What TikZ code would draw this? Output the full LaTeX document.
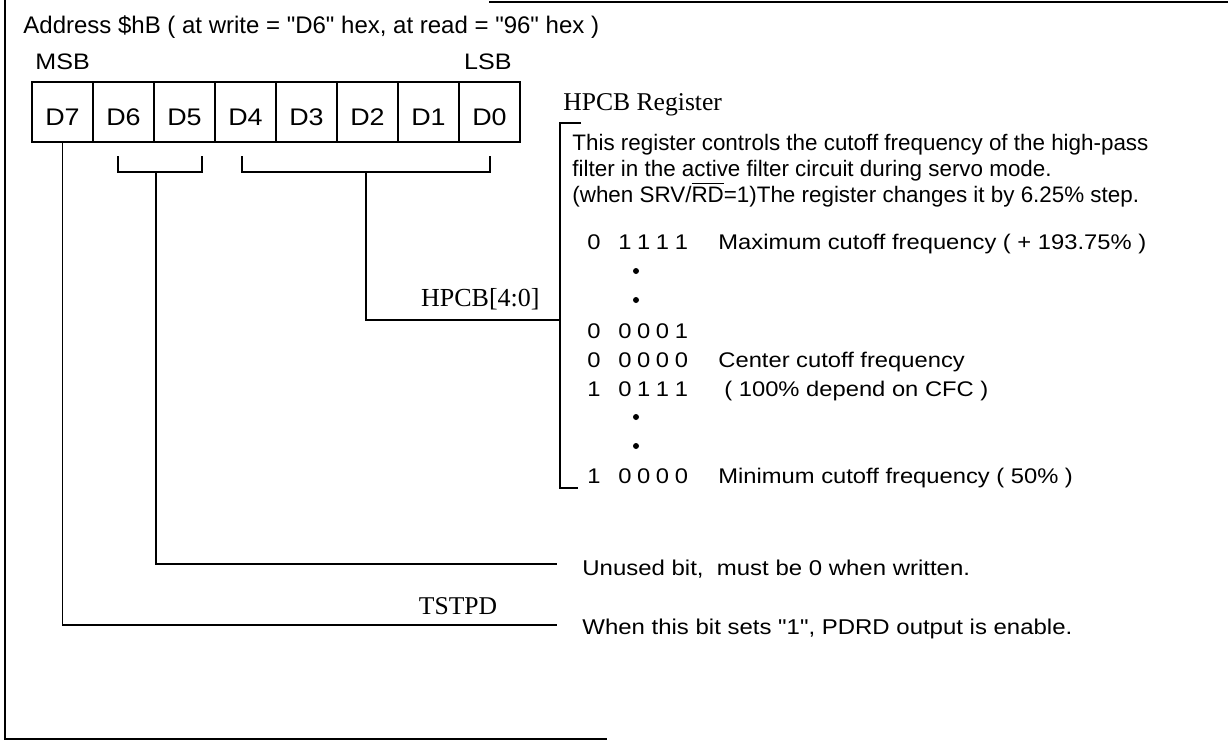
\documentclass[tikz,border=0pt]{standalone}
\usepackage{fontspec}
\setmainfont{Liberation Serif}
\newfontfamily\regsans{Liberation Sans}
\newfontfamily\widesans[FakeStretch=1.12]{Liberation Sans}
\usetikzlibrary{positioning}

\tikzset{
  bitcell/.style={draw, line width=1pt, outer sep=0pt, inner sep=0pt,
    minimum width=30.5pt, minimum height=30pt, text height=13pt, text depth=0pt,
    font=\widesans\fontsize{12}{14}\selectfont},
  link/.style={line width=0.8pt},
  frameline/.style={line width=1pt},
  sanstxt/.style={anchor=base west, inner sep=0pt, font=\regsans\fontsize{11.2}{13}\selectfont},
  notetxt/.style={anchor=base west, inner sep=0pt, font=\widesans\fontsize{10.7}{13}\selectfont},
  rowtxt/.style={anchor=base west, inner sep=0pt, font=\widesans\fontsize{10.6}{12}\selectfont},
  serif/.style={inner sep=0pt, font=\rmfamily\fontsize{12.8}{15}\selectfont},
  dotmark/.style={circle, fill, inner sep=0pt, minimum size=3pt}
}
\newcommand{\bitsp}{\hspace{2.8pt}}

\begin{document}
\begin{tikzpicture}[x=0.5pt,y=-0.5pt]
\useasboundingbox (0,0) rectangle (1228,744);

% frame
\draw[frameline] (489,2) -- (1228,2);
\draw[frameline] (5,0) -- (5,739) -- (607,739);

\node[sanstxt, font=\regsans\fontsize{12}{14}\selectfont] (title) at (23,33)
  {Address \$hB ( at write = "D6" hex, at read = "96" hex )};
\node[rowtxt, font=\widesans\fontsize{11.2}{13}\selectfont] (msb) at (35,69) {MSB};
\node[rowtxt, font=\widesans\fontsize{11.2}{13}\selectfont, anchor=base east] (lsb) at (512,69) {LSB};

% register
\node[bitcell] (d7) at (62.5,112) {D7};
\node[bitcell, right=0pt of d7] (d6) {D6};
\node[bitcell, right=0pt of d6] (d5) {D5};
\node[bitcell, right=0pt of d5] (d4) {D4};
\node[bitcell, right=0pt of d4] (d3) {D3};
\node[bitcell, right=0pt of d3] (d2) {D2};
\node[bitcell, right=0pt of d2] (d1) {D1};
\node[bitcell, right=0pt of d1] (d0) {D0};
\draw[line width=1.4pt] (d7.north west) rectangle (d0.south east);

% brackets under the bits
\coordinate (b65l) at (118,156);
\coordinate (b65r) at (202,156);
\coordinate (b65c) at (156,172);
\coordinate (b40l) at (242,156);
\coordinate (b40r) at (490,156);
\coordinate (b40c) at (366,172);
\draw[link] (b65l) |- (b65c) -| (b65r);
\draw[link] (b40l) |- (b40c) -| (b40r);

% HPCB register text
\node[serif, anchor=base west] (regname) at (563,111) {HPCB Register};
\coordinate (regtop) at (581,123);
\coordinate (regbot) at (578,488);
\draw[link] (regtop) -- (560,123) -- (560,488) -- (regbot);
\node[sanstxt] (par1) at (572,150) {This register controls the cutoff frequency of the high-pass};
\node[sanstxt] (par2) at (572,176) {filter in the active filter circuit during servo mode.};
\node[sanstxt] (par3) at (572,202) {(when SRV/$\overline{\hbox{RD}}$=1)The register changes it by 6.25\% step.};

\node[rowtxt] (s1) at (587,249) {0};
\node[rowtxt] (v1) at (618,249) {1\bitsp1\bitsp1\bitsp1};
\node[rowtxt] (t1) at (718,249) {Maximum cutoff frequency ( + 193.75\% )};
\node[dotmark] (p1) at (636,271) {};
\node[dotmark] (p2) at (636,300) {};
\node[rowtxt] (s2) at (587,338) {0};
\node[rowtxt] (v2) at (618,338) {0\bitsp0\bitsp0\bitsp1};
\node[rowtxt] (s3) at (587,367) {0};
\node[rowtxt] (v3) at (618,367) {0\bitsp0\bitsp0\bitsp0};
\node[rowtxt] (t3) at (718,367) {Center cutoff frequency};
\node[rowtxt] (s4) at (587,396) {1};
\node[rowtxt] (v4) at (618,396) {0\bitsp1\bitsp1\bitsp1};
\node[rowtxt] (t4) at (724,396) {( 100\% depend on CFC )};
\node[dotmark] (p3) at (636,417) {};
\node[dotmark] (p4) at (636,446) {};
\node[rowtxt] (s5) at (587,483) {1};
\node[rowtxt] (v5) at (618,483) {0\bitsp0\bitsp0\bitsp0};
\node[rowtxt] (t5) at (718,483) {Minimum cutoff frequency ( 50\% )};

% field links
\node[serif, font=\rmfamily\fontsize{13}{15}\selectfont, anchor=base east] (hpcbf) at (540,306) {HPCB[4:0]};
\draw[link] (b40c) |- (560,320);

\node[notetxt] (unused) at (582,575) {Unused bit,\ \ must be 0 when written.};
\coordinate (unusedEnd) at (557,564);
\draw[link] (b65c) |- (unusedEnd);

\node[serif] (tstpd) at (458,606) {TSTPD};
\node[notetxt] (pdrd) at (582,634) {When this bit sets "1", PDRD output is enable.};
\coordinate (pdrdEnd) at (557,625);
\draw[link] (d7.south) |- (pdrdEnd);
\end{tikzpicture}
\end{document}
